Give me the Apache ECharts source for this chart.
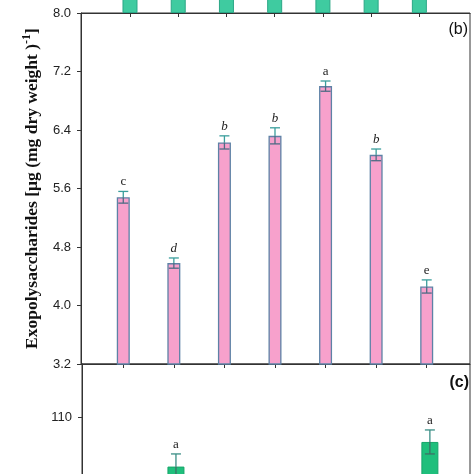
<!DOCTYPE html>
<html><head><meta charset="utf-8">
<script src="https://cdn.jsdelivr.net/npm/echarts@6/dist/echarts.min.js"></script>
<style>html,body{margin:0;padding:0;background:#fff}#c{width:474px;height:474px}</style>
</head><body><div id="c"></div>
<script>
// categories (treatments 1..7)
const categories = [1, 2, 3, 4, 5, 6, 7];
// panel (b) exopolysaccharides
const epsValues = [5.48, 4.58, 6.23, 6.32, 7.00, 6.06, 4.26];
const epsErrors = [0.08, 0.07, 0.09, 0.11, 0.07, 0.08, 0.09];
const epsLetters = ['c', 'd', 'b', 'b', 'a', 'b', 'e'];
const epsTicks = [3.2, 4.0, 4.8, 5.6, 6.4, 7.2, 8.0];
// panel (a) (only bar bottoms visible, tops cut off)
const panelAValues = [9.0, 9.0, 9.0, 9.0, 9.0, 9.0, 9.0];
// panel (c) (only the two tallest bars reach the visible area)
const panelCValues = [92, 102.6, 92, 92, 92, 92, 106.3];
const panelCErrors = [1.8, 1.9, 1.8, 1.8, 1.8, 1.8, 1.8];
const panelCLetters = ['b', 'a', 'b', 'b', 'b', 'b', 'a'];
const panelCTicks = [60, 70, 80, 90, 100, 110];

const chart = echarts.init(document.getElementById('c'), null, {renderer: 'canvas'});
const axisColor = '#333';
const sans = 'Liberation Sans, Arial, sans-serif';
const serif = 'Liberation Serif, Times New Roman, serif';

function errSeries(vals, errs, letters, xi, yi, capW, upColor, downColor, italicSet) {
  return {
    type: 'custom', xAxisIndex: xi, yAxisIndex: yi, z: 5, clip: false,
    data: categories.map((c, i) => [c, vals[i], errs[i]]),
    renderItem: function (params, api) {
      const i = params.dataIndex;
      const x = api.value(0), v = api.value(1), e = api.value(2);
      const pt = api.coord([x, v + e]);
      const pm = api.coord([x, v]);
      const pb = api.coord([x, v - e]);
      const h = capW / 2;
      const up = {stroke: upColor, lineWidth: 1.3};
      const dn = {stroke: downColor, lineWidth: 1.3};
      const letter = letters[i];
      return {type: 'group', children: [
        {type: 'line', shape: {x1: pt[0], y1: pt[1], x2: pm[0], y2: pm[1]}, style: up},
        {type: 'line', shape: {x1: pt[0] - h, y1: pt[1], x2: pt[0] + h, y2: pt[1]}, style: up},
        {type: 'line', shape: {x1: pm[0], y1: pm[1], x2: pb[0], y2: pb[1]}, style: dn},
        {type: 'line', shape: {x1: pb[0] - h, y1: pb[1], x2: pb[0] + h, y2: pb[1]}, style: dn},
        {type: 'text', x: pt[0], y: pt[1] - 3, style: {
          text: letter, align: 'center', verticalAlign: 'bottom',
          fontFamily: serif, fontSize: 13,
          fontStyle: italicSet.indexOf(letter) >= 0 ? 'italic' : 'normal',
          fill: '#222'}}
      ]};
    }
  };
}

const ticks7 = categories.slice();

const option = {
  animation: false,
  backgroundColor: '#fff',
  grid: [
    {left: 81, right: 4, top: -200, height: 213, outerBoundsMode: 'none', containLabel: false},
    {left: 81, right: 4, top: 13, height: 351, show: true, borderColor: axisColor, borderWidth: 1, outerBoundsMode: 'none', containLabel: false},
    {left: 82, right: 4, top: 364, height: 453, show: true, borderColor: axisColor, borderWidth: 1, outerBoundsMode: 'none', containLabel: false}
  ],
  xAxis: [
    {gridIndex: 0, type: 'value', min: -0.016, max: 8.05, position: 'bottom',
     axisLine: {show: true, onZero: false, lineStyle: {color: axisColor}},
     axisTick: {show: true, length: 4, customValues: ticks7, lineStyle: {color: axisColor}},
     axisLabel: {show: false}, splitLine: {show: false}},
    {gridIndex: 1, type: 'value', min: 0.164, max: 7.856, position: 'bottom',
     axisLine: {show: true, onZero: false, lineStyle: {color: axisColor}},
     axisTick: {show: true, length: 4, customValues: ticks7, lineStyle: {color: axisColor}},
     axisLabel: {show: false}, splitLine: {show: false}},
    {gridIndex: 2, type: 'value', min: 0.15, max: 7.79, position: 'bottom',
     axisLine: {show: false, onZero: false},
     axisTick: {show: false}, axisLabel: {show: false}, splitLine: {show: false}}
  ],
  yAxis: [
    {gridIndex: 0, type: 'value', min: 0, max: 10,
     axisLine: {show: false}, axisTick: {show: false}, axisLabel: {show: false}, splitLine: {show: false}},
    {gridIndex: 1, type: 'value', min: 3.2, max: 8.0,
     axisLine: {show: true, onZero: false, lineStyle: {color: axisColor}},
     axisTick: {show: true, length: 4, customValues: epsTicks, lineStyle: {color: axisColor}},
     axisLabel: {customValues: epsTicks, margin: 10, fontSize: 13, color: '#222', fontFamily: sans,
                 formatter: v => Number(v).toFixed(1)},
     splitLine: {show: false},
     name: '{n|Exopolysaccharides [μg (mg dry weight )}{s|-1}{n|]}',
     nameLocation: 'middle', nameRotate: 90, nameGap: 38,
     nameTextStyle: {rich: {
       n: {fontFamily: serif, fontWeight: 'bold', fontSize: 17.5, color: '#111', lineHeight: 22},
       s: {fontFamily: serif, fontWeight: 'bold', fontSize: 12, color: '#111', lineHeight: 22, verticalAlign: 'top', padding: [0, 0, 7, 0]}
     }}},
    {gridIndex: 2, type: 'value', min: 50, max: 118,
     axisLine: {show: true, onZero: false, lineStyle: {color: axisColor}},
     axisTick: {show: true, length: 4, customValues: panelCTicks, lineStyle: {color: axisColor}},
     axisLabel: {customValues: panelCTicks, margin: 10, fontSize: 13, color: '#222', fontFamily: sans},
     splitLine: {show: false}}
  ],
  series: [
    {type: 'bar', xAxisIndex: 0, yAxisIndex: 0, barWidth: 15,
     data: categories.map((c, i) => [c, panelAValues[i]]),
     itemStyle: {color: '#3FCBA0', borderColor: '#2BA686', borderWidth: 1}},
    {type: 'bar', xAxisIndex: 1, yAxisIndex: 1, barWidth: 13,
     data: categories.map((c, i) => [c, epsValues[i]]),
     itemStyle: {color: '#F7A1CC', borderColor: '#5D82A6', borderWidth: 1.3}},
    errSeries(epsValues, epsErrors, epsLetters, 1, 1, 10, '#3A9E9C', '#4F6B84', ['b', 'd']),
    {type: 'bar', xAxisIndex: 2, yAxisIndex: 2, barWidth: 17,
     data: categories.map((c, i) => [c, panelCValues[i]]),
     itemStyle: {color: '#1FBF7C', borderColor: '#17A56A', borderWidth: 1}},
    errSeries(panelCValues, panelCErrors, panelCLetters, 2, 2, 10, '#3A8E86', '#3F6F66', [])
  ],
  graphic: [
    {type: 'text', right: 6, top: 22, style: {text: '(b)', fontFamily: sans, fontSize: 16, fill: '#111'}},
    {type: 'text', right: 5, top: 375, style: {text: '(c)', fontFamily: sans, fontSize: 16, fontWeight: 'bold', fill: '#111'}}
  ]
};
chart.setOption(option);
</script>
</body></html>
